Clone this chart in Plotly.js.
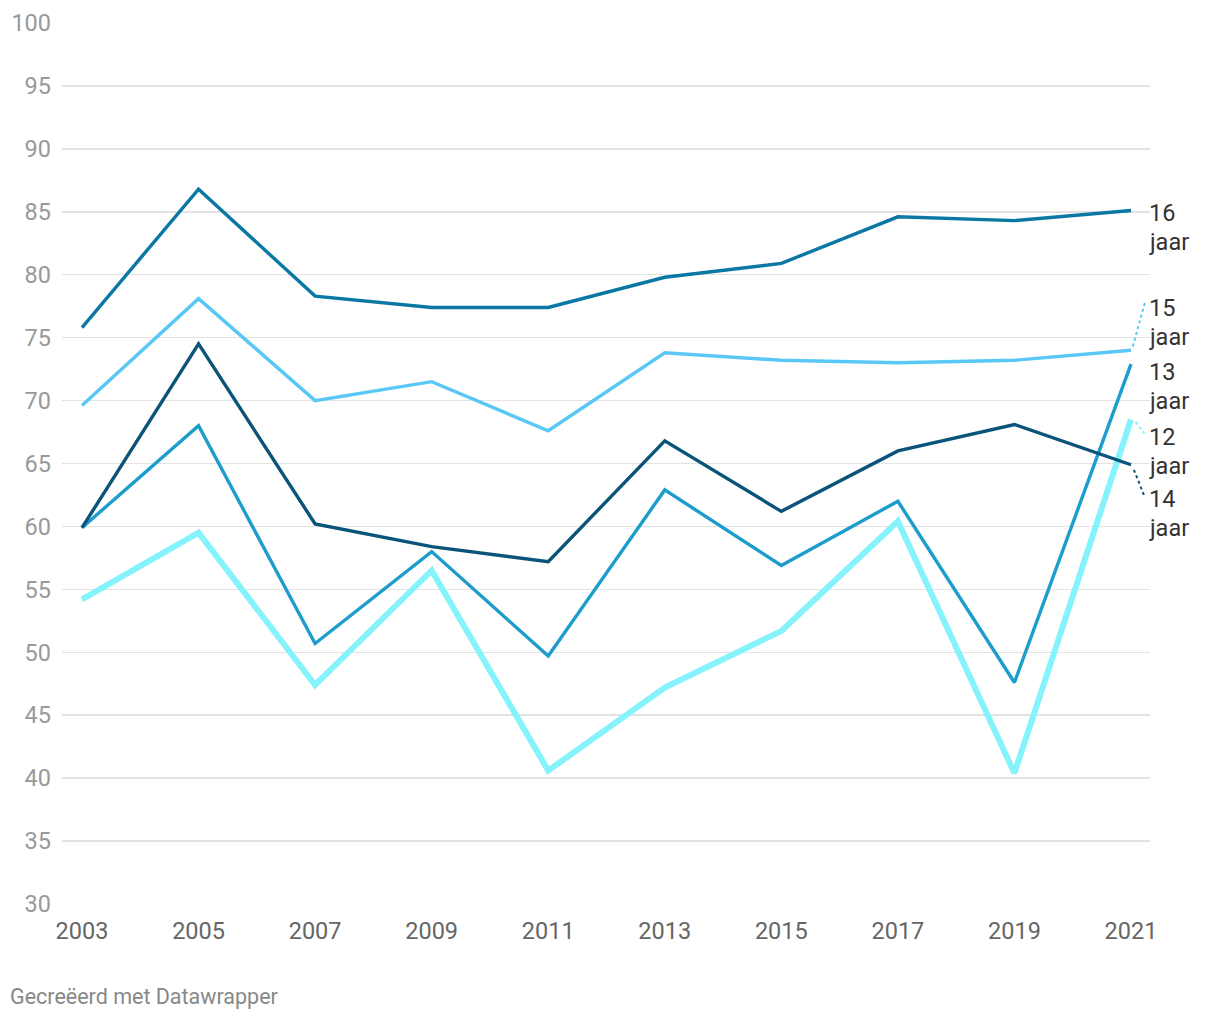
<!DOCTYPE html>
<html>
<head>
<meta charset="utf-8">
<script src="https://cdn.plot.ly/plotly-3.0.1.min.js"></script>
<style>
html,body{margin:0;padding:0;background:#fff;}
#chart{width:1220px;height:1020px;}
</style>
</head>
<body>
<div id="chart"></div>
<script>
const years = [2003, 2005, 2007, 2009, 2011, 2013, 2015, 2017, 2019, 2021];
const jaar12 = [54.2, 59.5, 47.4, 56.5, 40.6, 47.2, 51.7, 60.4, 40.4, 68.5];
const jaar13 = [59.9, 68.0, 50.7, 58.0, 49.7, 62.9, 56.9, 62.0, 47.6, 72.9];
const jaar14 = [59.9, 74.5, 60.2, 58.4, 57.2, 66.8, 61.2, 66.0, 68.1, 64.9];
const jaar15 = [69.6, 78.1, 70.0, 71.5, 67.6, 73.8, 73.2, 73.0, 73.2, 74.0];
const jaar16 = [75.8, 86.8, 78.3, 77.4, 77.4, 79.8, 80.9, 84.6, 84.3, 85.1];
const seriesNames = ["12 jaar", "13 jaar", "14 jaar", "15 jaar", "16 jaar"];
const yTicks = [30, 35, 40, 45, 50, 55, 60, 65, 70, 75, 80, 85, 90, 95, 100];

const colors = {"12 jaar": "#86f3fc", "13 jaar": "#1c9dcc", "14 jaar": "#0a547a", "15 jaar": "#5ac8f6", "16 jaar": "#0b78a4"};
const widths = {"12 jaar": 6, "13 jaar": 3.4, "14 jaar": 3.4, "15 jaar": 3.4, "16 jaar": 3.4};
const values = {"12 jaar": jaar12, "13 jaar": jaar13, "14 jaar": jaar14, "15 jaar": jaar15, "16 jaar": jaar16};

const traces = seriesNames.map(n => ({
  x: years, y: values[n], type: "scatter", mode: "lines", name: n,
  line: {color: colors[n], width: widths[n]}, hoverinfo: "x+y"
}));

// label line positions in paper fraction of plot height (layout only)
const plotTop = 23, plotH = 881;
const labelPx = {"16 jaar": 213, "15 jaar": 308, "13 jaar": 372, "12 jaar": 437, "14 jaar": 499};
const lineGap = 28.5;
const annotations = [];
seriesNames.forEach(n => {
  const parts = n.split(" ");
  parts.forEach((p, i) => {
    const py = labelPx[n] + i * lineGap;
    annotations.push({
      x: 1, xref: "paper", xanchor: "left", xshift: -3,
      y: 1 - (py - plotTop) / plotH, yref: "paper", yanchor: "middle",
      text: p, showarrow: false, align: "left",
      font: {family: "Roboto", size: 23.5, color: "#333"}
    });
  });
});
annotations.push({
  x: -54/1088, xref: "paper", xanchor: "left", y: -(997-904)/881, yref: "paper", yanchor: "middle",
  text: "Gecreëerd met Datawrapper", showarrow: false,
  font: {family: "Roboto", size: 21.5, color: "#888"}
});

const last = years.length - 1;
const shapes = [
  {type: "line", xref: "x", yref: "y", x0: 2021.03, y0: jaar15[last] + 0.3, x1: 2021.24, y1: 77.8, line: {color: colors["15 jaar"], width: 2, dash: "dot"}},
  {type: "line", xref: "x", yref: "y", x0: 2021.08, y0: jaar12[last] - 0.2, x1: 2021.23, y1: 67.4, line: {color: colors["12 jaar"], width: 2, dash: "dot"}},
  {type: "line", xref: "x", yref: "y", x0: 2021.05, y0: jaar14[last] - 0.4, x1: 2021.23, y1: 62.4, line: {color: colors["14 jaar"], width: 2, dash: "dot"}}
];

const layout = {
  width: 1220, height: 1020,
  margin: {l: 62, r: 70, t: 23, b: 116},
  paper_bgcolor: "#fff", plot_bgcolor: "#fff",
  showlegend: false,
  font: {family: "Roboto", size: 23.5, color: "#666"},
  xaxis: {
    range: [2002.657, 2021.326], tickvals: years, ticktext: years.map(String),
    showgrid: false, zeroline: false, showline: false, ticks: "",
    ticklabelstandoff: 10,
    tickfont: {family: "Roboto", size: 23.5, color: "#666"}
  },
  yaxis: {
    range: [30, 100], tickvals: yTicks, ticktext: yTicks.map(String),
    showgrid: true, gridcolor: "#e3e3e3", gridwidth: 1.5, zeroline: false, showline: false, ticks: "",
    ticklabelstandoff: 10,
    tickfont: {family: "Roboto", size: 23.5, color: "#999"}
  },
  annotations: annotations,
  shapes: shapes
};

Plotly.newPlot("chart", traces, layout, {displayModeBar: false, staticPlot: true});
</script>
</body>
</html>
